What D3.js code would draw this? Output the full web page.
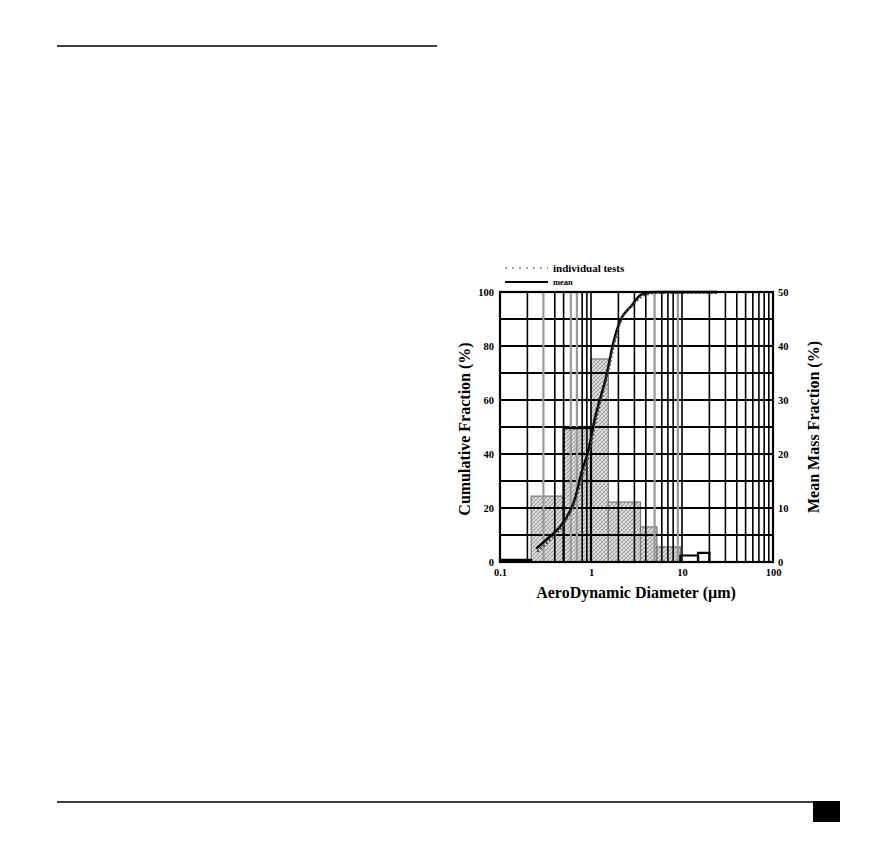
<!DOCTYPE html>
<html>
<head>
<meta charset="utf-8">
<script src="https://cdn.jsdelivr.net/npm/d3@7"></script>
<style>
  body { margin: 0; background: #fff; }
  svg { display: block; }
  text { font-family: "Liberation Serif", "DejaVu Serif", serif; font-weight: bold; }
</style>
</head>
<body>
<svg id="page" width="878" height="850"></svg>
<script>
/// data ///
// histogram of individual tests (hatched bars), mass fraction in %
const testBinLo = [0.22, 0.5, 1, 1.55, 3.5, 5.3];
const testBinHi = [0.5, 1, 1.55, 3.5, 5.3, 9.6];
const testMass = [12.2, 24.8, 37.6, 11.1, 6.5, 2.8];
// mean histogram (black outlined bars)
const meanBinLo = [0.1, 0.5, 9.6, 15];
const meanBinHi = [0.22, 1, 15, 20];
const meanMass = [0.4, 24.8, 1.2, 1.7];
// cumulative fraction curves
const cumDiam = [0.25, 0.35, 0.5, 0.66, 0.8, 0.93, 1.1, 1.5, 1.75, 2.07, 2.8, 3.5, 4.1, 5, 24];
const cumIndividual = [4.2, 8.8, 15, 23.5, 33, 40.5, 52.5, 70.5, 81, 89.5, 95.5, 98.6, 99.6, 100, 100];
const cumMean = [5, 9.3, 14.8, 23, 34, 41, 53, 70, 81, 89, 95, 98.9, 99.6, 100, 100];
// ticks
const xTicks = [0.1, 1, 10, 100];
const xTickLabels = ["0.1", "1", "10", "100"];
const leftTicks = [0, 20, 40, 60, 80, 100];
const rightTicks = [0, 10, 20, 30, 40, 50];
const hGrid = [10, 20, 30, 40, 50, 60, 70, 80, 90];
const vGrid = [0.2, 0.3, 0.4, 0.5, 0.6, 0.7, 0.8, 0.9, 1, 2, 3, 4, 5, 6, 7, 8, 9, 10,
               20, 30, 40, 50, 60, 70, 80, 90];
const grayGrid = [0.3, 0.6, 0.7, 5, 9];

/// layout ///
const plot = {left: 500, right: 773, top: 292, bottom: 562};
const svg = d3.select("#page");

// page rules
svg.append("line").attr("x1", 57).attr("x2", 437).attr("y1", 46).attr("y2", 46)
  .attr("stroke", "#000").attr("stroke-width", 1.6);
svg.append("line").attr("x1", 57).attr("x2", 813).attr("y1", 802).attr("y2", 802)
  .attr("stroke", "#000").attr("stroke-width", 1.6);
svg.append("rect").attr("x", 813).attr("y", 801).attr("width", 27).attr("height", 21).attr("fill", "#000");

/// scales ///
const x = d3.scaleLog().domain([0.1, 100]).range([plot.left, plot.right]);
const yLeft = d3.scaleLinear().domain([0, 100]).range([plot.bottom, plot.top]);
const yRight = d3.scaleLinear().domain([0, 50]).range([plot.bottom, plot.top]);

// hatch pattern for the bars
const defs = svg.append("defs");
const pat = defs.append("pattern").attr("id", "hatch").attr("patternUnits", "userSpaceOnUse")
  .attr("width", 4).attr("height", 4);
pat.append("rect").attr("width", 4).attr("height", 4).attr("fill", "#e0e0e0");
pat.append("path").attr("d", "M0,4 L4,0 M-1,1 L1,-1 M3,5 L5,3").attr("stroke", "#858585").attr("stroke-width", 0.8);
pat.append("path").attr("d", "M0,0 L4,4 M-1,3 L1,5 M3,-1 L5,1").attr("stroke", "#aaa").attr("stroke-width", 0.6);

const chart = svg.append("g");

// hatched bars
chart.selectAll(".test-bar")
  .data(testMass)
  .join("rect")
  .classed("test-bar", true)
    .attr("x", (d, i) => x(testBinLo[i]))
    .attr("width", (d, i) => x(testBinHi[i]) - x(testBinLo[i]))
    .attr("y", d => yRight(d))
    .attr("height", d => plot.bottom - yRight(d))
    .attr("fill", "url(#hatch)")
    .attr("stroke", "#777")
    .attr("stroke-width", 1.2);

// grid
chart.selectAll(".hgrid")
  .data(hGrid)
  .join("line")
  .classed("hgrid", true)
    .attr("x1", plot.left).attr("x2", plot.right)
    .attr("y1", d => yLeft(d)).attr("y2", d => yLeft(d))
    .attr("stroke", "#000").attr("stroke-width", 2);

chart.selectAll(".vgrid")
  .data(vGrid)
  .join("line")
  .classed("vgrid", true)
    .attr("x1", d => x(d)).attr("x2", d => x(d))
    .attr("y1", plot.top).attr("y2", plot.bottom)
    .attr("stroke", d => grayGrid.includes(d) ? "#999" : "#000")
    .attr("stroke-width", d => grayGrid.includes(d) ? 2.2 : 1.6);

// mean bars, black outline
chart.selectAll(".mean-bar")
  .data(meanMass)
  .join("path")
  .classed("mean-bar", true)
    .attr("d", (d, i) => {
      const x0 = x(meanBinLo[i]), x1 = x(meanBinHi[i]), y = yRight(d);
      return `M${x0},${plot.bottom}V${y}H${x1}V${plot.bottom}`;
    })
    .attr("fill", "none")
    .attr("stroke", "#000")
    .attr("stroke-width", 2.2);

// cumulative curves
const lineInd = d3.line()
  .x((d, i) => x(cumDiam[i]) + 1)
  .y(d => yLeft(d) + 1)
  .curve(d3.curveMonotoneX);
const lineMean = d3.line()
  .x((d, i) => x(cumDiam[i]))
  .y(d => yLeft(d))
  .curve(d3.curveMonotoneX);

chart.append("path")
  .attr("d", lineMean(cumMean))
  .attr("fill", "none")
  .attr("stroke", "#000")
  .attr("stroke-width", 2.4);
chart.append("path")
  .attr("d", lineInd(cumIndividual))
  .attr("fill", "none")
  .attr("stroke", "#444")
  .attr("stroke-width", 2.2)
  .attr("stroke-dasharray", "2,2");

// frame
chart.append("rect")
  .attr("x", plot.left).attr("y", plot.top)
  .attr("width", plot.right - plot.left).attr("height", plot.bottom - plot.top)
  .attr("fill", "none").attr("stroke", "#000").attr("stroke-width", 2.2);

/// axes ///
const leftAxis = svg.append("g")
  .attr("transform", `translate(${plot.left - 4},0)`)
  .call(d3.axisLeft(yLeft).tickValues(leftTicks).tickSize(0).tickPadding(2))
  .call(g => g.select(".domain").remove());
const rightAxis = svg.append("g")
  .attr("transform", `translate(${plot.right + 3},0)`)
  .call(d3.axisRight(yRight).tickValues(rightTicks).tickSize(0).tickPadding(2))
  .call(g => g.select(".domain").remove());
const bottomAxis = svg.append("g")
  .attr("transform", `translate(0,${plot.bottom + 4})`)
  .call(d3.axisBottom(x).tickValues(xTicks).tickFormat((d, i) => xTickLabels[i]).tickSize(0).tickPadding(3))
  .call(g => g.select(".domain").remove());

[leftAxis, rightAxis, bottomAxis].forEach(g => g.selectAll("text")
  .attr("font-family", "Liberation Serif")
  .attr("font-weight", "bold")
  .attr("font-size", 10.5)
  .attr("fill", "#000"));

// axis titles
svg.append("text")
  .attr("transform", `translate(470,${(plot.top + plot.bottom) / 2 + 2}) rotate(-90)`)
  .attr("text-anchor", "middle")
  .attr("font-size", 16)
  .text("Cumulative Fraction (%)");
svg.append("text")
  .attr("transform", `translate(819,${(plot.top + plot.bottom) / 2}) rotate(-90)`)
  .attr("text-anchor", "middle")
  .attr("font-size", 16)
  .text("Mean Mass Fraction (%)");
svg.append("text")
  .attr("x", 636)
  .attr("y", 598)
  .attr("text-anchor", "middle")
  .attr("font-size", 16)
  .text("AeroDynamic Diameter (µm)");

/// legend ///
const legend = svg.append("g");
legend.append("line").attr("x1", 505).attr("x2", 548).attr("y1", 268).attr("y2", 268)
  .attr("stroke", "#888").attr("stroke-width", 1.5).attr("stroke-dasharray", "2,5");
legend.append("text").attr("x", 553).attr("y", 272).attr("font-size", 11).text("individual tests");
legend.append("line").attr("x1", 505).attr("x2", 548).attr("y1", 282).attr("y2", 282)
  .attr("stroke", "#000").attr("stroke-width", 1.8);
legend.append("text").attr("x", 553).attr("y", 285).attr("font-size", 8.5).text("mean");
</script>
</body>
</html>
